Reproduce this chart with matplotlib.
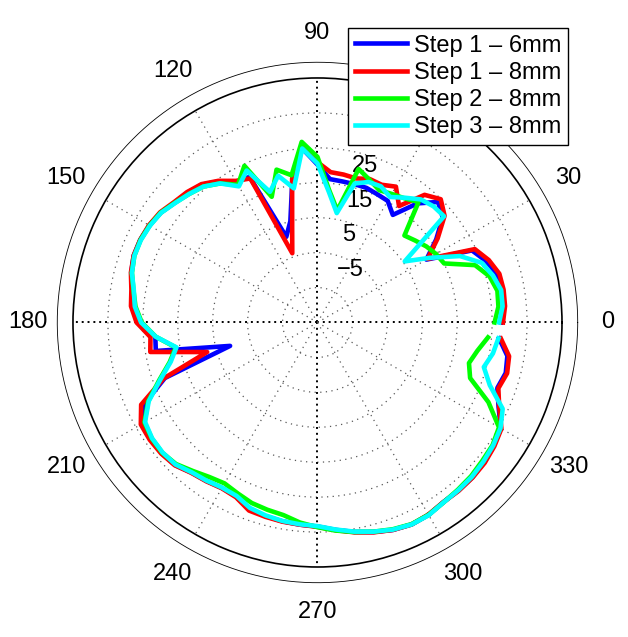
import numpy as np
import matplotlib
matplotlib.use("Agg")
from matplotlib import pyplot as plt

plt.rcParams['font.family'] = ['Liberation Sans', 'DejaVu Sans']

# angles in degrees, one sample every 5 degrees (curve left open at 360)
angles_deg = np.arange(0, 360, 5)

step1_6mm = [27.6, 28.5, 28.7, 28.2, 26.4, 23.8, 11.0, 16.5, 21.8, 23.8,
             19.5, 12.6, 15.2, 15.5, 16.0, 16.0, 16.0, 16.2, 20.2, 25.0,
             16.5, 5.0, 1.1, 21.0, 21.5, 24.3, 26.5, 27.6, 28.4, 29.8,
             30.6, 31.0, 31.0, 30.2, 28.8, 28.0, 26.0, 21.6, 22.0, 0.9,
             21.5, 29.5, 33.0, 33.3, 33.2, 32.7, 31.1, 30.4, 29.7, 30.0,
             31.9, 32.4, 32.8, 33.1, 33.4, 34.6, 35.9, 37.1, 38.2, 38.8,
             38.6, 37.8, 37.8, 37.7, 37.3, 36.6, 35.6, 32.2, 29.8, 30.8,
             30.2, 27.2]

step1_8mm = [28.1, 28.9, 29.1, 28.9, 27.2, 24.7, 11.4, 17.0, 22.5, 24.9,
             22.7, 15.7, 19.9, 18.5, 18.7, 17.7, 18.0, 18.2, 20.9, 25.5,
             16.8, 3.0, -3.9, 20.5, 21.8, 24.5, 26.7, 27.8, 28.6, 30.0,
             30.7, 31.0, 31.0, 30.3, 29.1, 28.6, 26.8, 23.0, 23.6, 7.7,
             21.9, 30.7, 33.4, 33.6, 33.4, 32.8, 31.2, 30.5, 29.8, 30.2,
             32.3, 32.6, 32.9, 33.1, 33.5, 34.7, 36.0, 37.2, 38.2, 38.8,
             38.5, 37.8, 37.9, 37.8, 37.5, 36.8, 35.8, 32.4, 30.1, 31.2,
             30.7, 27.7]

step2_8mm = [25.7, 27.0, 27.3, 26.0, 23.0, 15.0, 14.2, 13.0, 11.5, 10.2,
             20.0, 18.4, 17.5, 16.8, 18.5, 20.5, 7.6, 13.1, 22.4, 26.9,
             17.8, 20.3, 13.3, 24.5, 20.5, 23.6, 25.8, 27.0, 28.3, 29.8,
             30.5, 30.9, 30.8, 30.0, 28.5, 27.3, 25.3, 21.5, 16.2, 18.8,
             23.2, 28.5, 32.2, 32.9, 33.0, 32.3, 30.5, 29.0, 28.2, 29.0,
             30.0, 30.5, 31.0, 32.5, 33.6, 34.8, 35.9, 37.0, 38.0, 38.7,
             38.6, 37.9, 37.5, 37.2, 36.6, 36.2, 35.0, 29.0, 21.5, 19.9,
             21.5, 24.0]

step3_8mm = [27.0, 28.2, 28.4, 27.0, 25.0, 20.0, 12.0, 5.5, 22.3, 22.0,
             21.0, 18.6, 16.5, 18.0, 17.8, 16.2, 6.8, 12.5, 20.5, 25.0,
             14.0, 18.5, 14.8, 23.0, 20.0, 23.6, 25.8, 27.0, 28.2, 29.7,
             30.4, 30.8, 30.8, 30.0, 28.4, 27.5, 25.5, 21.5, 16.0, 18.5,
             22.9, 28.3, 32.0, 32.8, 32.9, 32.5, 31.0, 30.3, 29.6, 29.8,
             31.5, 32.2, 32.7, 33.0, 33.3, 34.5, 35.8, 37.0, 38.1, 38.8,
             38.7, 37.9, 37.7, 37.5, 37.0, 36.4, 35.5, 33.5, 27.5, 24.3,
             26.0, 27.0]

series = [("Step 1 \u2013 6mm", step1_6mm, "#0000ff"),
          ("Step 1 \u2013 8mm", step1_8mm, "#ff0000"),
          ("Step 2 \u2013 8mm", step2_8mm, "#00ff00"),
          ("Step 3 \u2013 8mm", step3_8mm, "#00ffff")]

r_min, r_max = -25, 45
ring_values = [-15, -5, 5, 15, 25, 35]
# only the ring labels not covered by the legend
ring_label_values = [-5, 5, 15, 25]
ring_labels = ["\u22125", "5", "15", "25"]
spoke_angles = np.arange(0, 360, 30)
# the 60 degree label sits under the legend
angle_label_values = [0, 30, 90, 120, 150, 180, 210, 240, 270, 300, 330]

fig = plt.figure(figsize=(6.28, 6.37), dpi=100)
ax = fig.add_axes([0.1162, 0.1099, 0.7787, 0.7677], projection='polar')
ax.set_rlim(r_min, r_max)
ax.grid(False)
ax.set_xticks([])
ax.set_yticks([])
ax.spines['polar'].set_linewidth(1.2)
ax.spines['polar'].set_color('black')

# dotted range rings
full = np.linspace(0, 2 * np.pi, 400)
for v in ring_values:
    ax.plot(full, np.full_like(full, v), color='0.35', lw=0.9,
            linestyle=(0, (1, 3.5)), zorder=1)
# dotted spokes
for a in spoke_angles:
    t = np.deg2rad(a)
    if a % 90 == 0:
        ax.plot([t, t], [r_min, r_max], color='black', lw=1.4,
                linestyle=(0, (1, 2)), zorder=1)
    else:
        ax.plot([t, t], [r_min, r_max], color='0.35', lw=0.9,
                linestyle=(0, (1, 3.5)), zorder=1)

# thin outer circle
ax.plot(full, np.full_like(full, 49.5), color='black', lw=0.6, clip_on=False)

# angle labels
for a in angle_label_values:
    ax.text(np.deg2rad(a), 58.0, str(a), ha='center', va='center',
            fontsize=17, clip_on=False)

# ring labels
for v, lab in zip(ring_label_values, ring_labels):
    ax.annotate(lab, xy=(np.deg2rad(82), v), xytext=(7, -4),
                textcoords='offset points', ha='left', va='top',
                fontsize=17, zorder=3)

theta = np.deg2rad(angles_deg)
for name, vals, col in series:
    ax.plot(theta, vals, color=col, lw=3.3, label=name, zorder=4)

leg = ax.legend(loc='upper right', bbox_to_anchor=(568 / 628, 1 - 28 / 637),
                bbox_transform=fig.transFigure, borderaxespad=0,
                fontsize=17, handlelength=2.2, handletextpad=0.3,
                labelspacing=0.22, borderpad=0.28, fancybox=False,
                framealpha=1, edgecolor='black')
leg.get_frame().set_linewidth(1.0)
leg.set_zorder(10)

fig.savefig("out.png", dpi=100)
